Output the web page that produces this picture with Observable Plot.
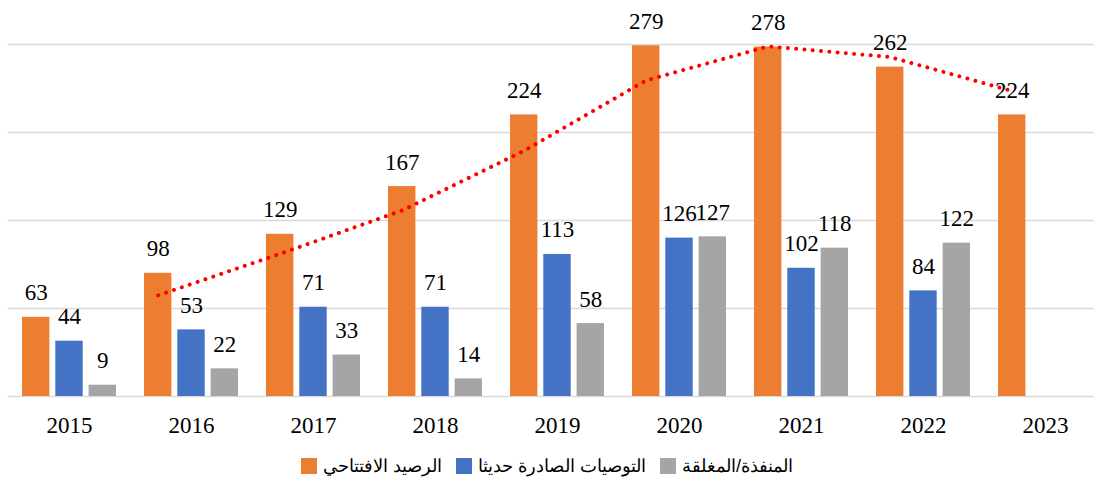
<!DOCTYPE html>
<html>
<head>
<meta charset="utf-8">
<script src="https://cdn.jsdelivr.net/npm/d3@7"></script>
<script src="https://cdn.jsdelivr.net/npm/@observablehq/plot@0.6"></script>
<style>
  body { margin: 0; background: #fff; }
  #chart { width: 1094px; }
  .legend { display: flex; justify-content: center; align-items: center; height: 24px; margin-top: 9px;
    font-family: "Liberation Sans", Arial, sans-serif; font-size: 18px; color: #000; direction: ltr; }
  .legend .item { display: flex; align-items: center; margin: 0 7px; }
  .legend .sw { width: 16px; height: 16px; margin-right: 6px; }
  .legend .lbl { direction: rtl; }
</style>
</head>
<body>
<div id="chart"></div>
<script>
const years = ["2015", "2016", "2017", "2018", "2019", "2020", "2021", "2022", "2023"];
const opening = [63, 98, 129, 167, 224, 279, 278, 262, 224];
const issued = [44, 53, 71, 71, 113, 126, 102, 84, null];
const closed = [9, 22, 33, 14, 58, 127, 118, 122, null];
const seriesNames = ["الرصيد الافتتاحي", "التوصيات الصادرة حديثا", "المنفذة/المغلقة"];
const seriesColors = ["#ED7D31", "#4472C4", "#A5A5A5"];
const yTicks = [0, 70, 140, 210, 280];

const serif = "Liberation Serif";
const allSeries = [opening, issued, closed];
const rowsFor = (vals, i) => years.map((year, j) => ({year, value: vals[j], series: seriesNames[i]}))
  .filter(d => d.value != null);

const bw = 94.4, w = 27.8, off = 33.3;
const insets = [
  {insetLeft: 0, insetRight: bw - w},
  {insetLeft: (bw - w) / 2, insetRight: (bw - w) / 2},
  {insetLeft: bw - w, insetRight: 0}
];
const dxs = [-off, 0, off];

const marks = [
  Plot.ruleY(yTicks, {stroke: "#D9D9D9", strokeWidth: 1.4})
];
allSeries.forEach((vals, i) => {
  marks.push(Plot.barY(rowsFor(vals, i), {x: "year", y: "value", fill: seriesColors[i], ...insets[i]}));
});
allSeries.forEach((vals, i) => {
  marks.push(Plot.text(rowsFor(vals, i), {x: "year", y: "value", text: d => String(d.value), dx: dxs[i], dy: -17,
    lineAnchor: "bottom", textAnchor: "middle", fill: "#000", fontFamily: serif, fontSize: 23}));
});
marks.push(Plot.axisX({tickSize: 0, tickPadding: 20, fill: "#000", label: null, fontFamily: serif, fontSize: 23}));
marks.push(Plot.line(rowsFor(opening, 0), Plot.windowY({k: 2, anchor: "end", strict: true},
  {x: "year", y: "value", dx: -off, stroke: "#FF0000", strokeWidth: 4, strokeDasharray: "0.01 8.3",
   strokeLinecap: "round"})));

const plot = Plot.plot({
  width: 1094,
  height: 445,
  marginTop: 44,
  marginBottom: 49,
  marginLeft: 7.5,
  marginRight: 0,
  style: {fontFamily: serif, fontSize: "23px", color: "#000", background: "#fff", overflow: "hidden"},
  x: {domain: years, range: [7.5, 1106.4], paddingInner: 0.227, paddingOuter: 0.113, axis: null, label: null},
  y: {domain: [0, 280], axis: null},
  marks
});
document.getElementById("chart").appendChild(plot);

const legend = document.createElement("div");
legend.className = "legend";
seriesNames.forEach((name, i) => {
  const item = document.createElement("div");
  item.className = "item";
  const sw = document.createElement("span");
  sw.className = "sw";
  sw.style.background = seriesColors[i];
  const lbl = document.createElement("span");
  lbl.className = "lbl";
  lbl.textContent = name;
  item.appendChild(sw);
  item.appendChild(lbl);
  legend.appendChild(item);
});
document.getElementById("chart").appendChild(legend);
</script>
</body>
</html>
